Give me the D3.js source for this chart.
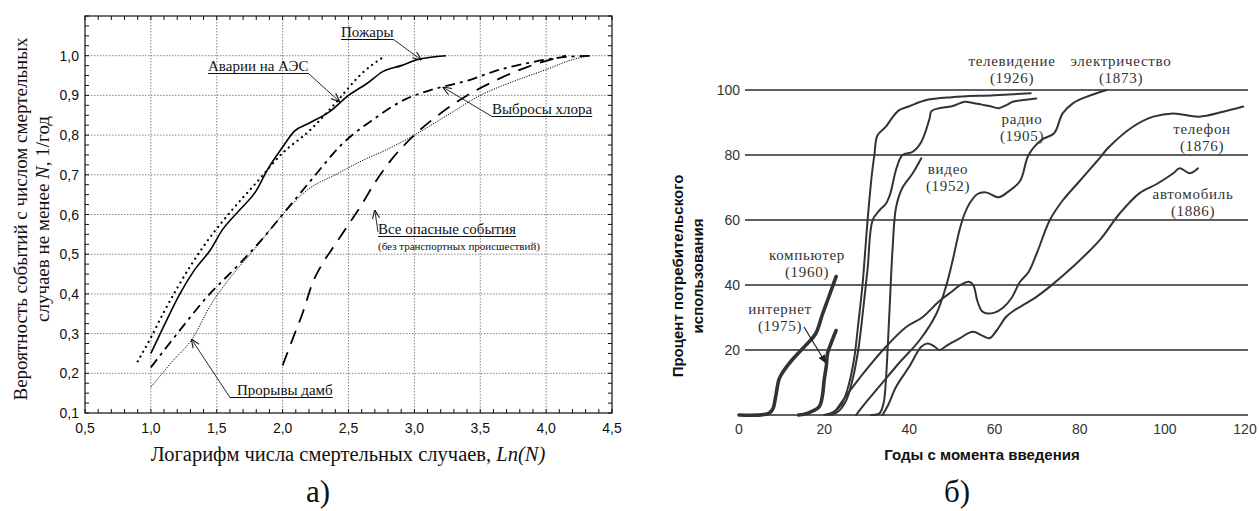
<!DOCTYPE html>
<html>
<head>
<meta charset="utf-8">
<script src="https://cdn.jsdelivr.net/npm/d3@7/dist/d3.min.js"></script>
<style>
  body { margin: 0; background: #fff; }
  text { fill: #111; }
</style>
</head>
<body>
<svg id="fig" width="1259" height="511"></svg>
<script>
// ---- panel a) data: Ln(N) vs probability ----
const xTicksA = [0.5, 1.0, 1.5, 2.0, 2.5, 3.0, 3.5, 4.0, 4.5];
const yTicksA = [0.1, 0.2, 0.3, 0.4, 0.5, 0.6, 0.7, 0.8, 0.9, 1.0];

const fires = [[1.0,0.25],[1.1,0.32],[1.22,0.40],[1.33,0.46],[1.45,0.51],[1.54,0.56],[1.67,0.61],[1.8,0.66],
  [1.88,0.71],[2.0,0.77],[2.09,0.81],[2.2,0.83],[2.36,0.86],[2.5,0.90],[2.64,0.93],[2.76,0.96],[2.9,0.975],
  [3.02,0.99],[3.24,1.0]];
const npp = [[0.9,0.23],[1.0,0.29],[1.1,0.355],[1.2,0.415],[1.4,0.52],[1.6,0.605],[1.8,0.68],[2.0,0.755],
  [2.2,0.81],[2.4,0.88],[2.6,0.955],[2.78,1.0]];
const chlorine = [[1.0,0.215],[1.2,0.30],[1.42,0.39],[1.67,0.475],[1.85,0.54],[2.0,0.60],[2.2,0.68],[2.46,0.78],
  [2.69,0.84],[2.93,0.89],[3.14,0.915],[3.43,0.94],[3.6,0.96],[3.84,0.98],[4.1,0.995],[4.35,1.0]];
const hazards = [[2.0,0.22],[2.08,0.29],[2.15,0.35],[2.23,0.43],[2.3,0.475],[2.4,0.525],[2.5,0.575],[2.6,0.625],
  [2.7,0.68],[2.83,0.74],[3.0,0.80],[3.2,0.855],[3.4,0.90],[3.6,0.935],[3.86,0.972],[4.15,1.0]];
const dams = [[1.0,0.165],[1.15,0.225],[1.32,0.29],[1.45,0.37],[1.6,0.44],[1.78,0.51],[2.0,0.60],[2.2,0.665],
  [2.4,0.70],[2.6,0.735],[2.8,0.765],[3.0,0.80],[3.25,0.85],[3.5,0.90],[3.75,0.935],[4.0,0.965],[4.2,0.99],[4.33,1.0]];

// ---- panel b) data: years since introduction vs % of consumers ----
const xTicksB = [0, 20, 40, 60, 80, 100, 120];
const yTicksB = [20, 40, 60, 80, 100];

const electricity = [[27.5,0],[29,2.6],[32.9,8.7],[37.6,16],[42.4,23],[46.3,31],[48.6,39.5],[50.2,47.7],[51.8,57],
  [53,62],[54.1,65],[56,68],[58,68.5],[61,67],[63,68.5],[66,72],[68,80],[71,84.6],[74,86.7],[76,92.8],
  [78.4,95.9],[81.6,97.9],[86.3,100]];
const telephone = [[22,0],[25,5.6],[29.8,13.8],[34.5,21],[39.2,27],[43,30],[47,35],[50,38],[52,40],[54,41],[55,40],
  [56,35],[57,32],[58,31.3],[60,31.5],[62,33],[64,36],[66,41],[68,44],[70,50],[73,60],[76,66],[80,72],[84,78],
  [87,82.6],[92.5,88.7],[97.3,91.8],[102,92.8],[108,91.8],[113.7,93.3],[118.4,94.9]];
const automobile = [[33.7,0],[35,3],[36.9,8.7],[40,14.9],[42.8,21],[44.3,22],[46,21],[47,20],[49,21.5],[51.8,23.6],
  [54.9,25.6],[57,24.5],[58.8,23.6],[60.5,26],[62.8,30.3],[65,32.5],[67.5,34.4],[70,36.5],[73,39.5],[78.4,45.6],
  [84.7,53.8],[89.4,62],[94,68.2],[98,71],[102,74.4],[103.5,75.9],[105.9,74.4],[107.8,75.9]];
const radio = [[21,0],[23,0.8],[25,4],[26.5,10],[28,20],[29.2,33],[30.2,45],[31.4,60],[33,63],[34.5,65],[35.5,68],
  [37,76],[38.4,80],[40.8,81],[42.8,84],[44.7,91],[45.2,93.5],[47,94.4],[50,95],[53,96.4],[55,96],[57,95.5],
  [59,95],[61,94.4],[63,95.5],[64.3,96.4],[66.7,96.9],[69.8,97.4]];
const television = [[20,0],[22,0.8],[24,3],[25.5,8],[27,17],[28,28],[29,40],[30.2,60],[31.2,74],[31.8,80],[32.5,86],
  [34.5,88.7],[36,91.5],[37.6,93.8],[40,95],[44,96.9],[50,97.8],[60,98.4],[68.5,99]];
const video = [[31,0],[33,0.5],[34,4],[34.5,10.8],[35.3,31],[36.1,52],[36.9,64],[38.4,70],[40.8,74.4],[42.8,79]];
const computer = [[0,0],[7,0.5],[8,2],[8.6,5.6],[9.4,11],[10.2,13],[12.5,17],[15.7,21.5],[18,25],[19.6,31],[21,36],[22.8,42.6]];
const internet = [[14,0],[16,0.5],[18.8,2.5],[19.6,6],[20,10.8],[20.5,15],[20.8,19],[21.6,22],[22.8,26]];

const svg = d3.select("#fig");
const serif = "'Liberation Serif', 'Times New Roman', serif";
const sans = "'Liberation Sans', Arial, sans-serif";

// arrow heads
const defs = svg.append("defs");
defs.append("marker").attr("id", "arrOpen")
    .attr("viewBox", "0 0 10 10").attr("refX", 9).attr("refY", 5)
    .attr("markerWidth", 9).attr("markerHeight", 9).attr("orient", "auto-start-reverse")
    .attr("markerUnits", "userSpaceOnUse")
    .append("path").attr("d", "M0,1 L10,5 L0,9").attr("fill", "none").attr("stroke", "#111").attr("stroke-width", 1.2);
defs.append("marker").attr("id", "arrFill")
    .attr("viewBox", "0 0 10 10").attr("refX", 9).attr("refY", 5)
    .attr("markerWidth", 9).attr("markerHeight", 9).attr("orient", "auto")
    .attr("markerUnits", "userSpaceOnUse")
    .append("path").attr("d", "M0,1 L10,5 L0,9 Z").attr("fill", "#222");

// ================= panel a =================
const xA = d3.scaleLinear().domain([0.5, 4.5]).range([85, 612]);
const yA = d3.scaleLinear().domain([0.1, 1.1]).range([413, 16]);
const comma = v => d3.format(".1f")(v).replace(".", ",");

let ga = svg.append("g");

// dotted grid
ga.selectAll(".gx").data(xTicksA.slice(1, -1)).enter().append("line")
  .attr("x1", d => xA(d)).attr("x2", d => xA(d)).attr("y1", yA(1.1)).attr("y2", yA(0.1))
  .attr("stroke", "#666").attr("stroke-width", 0.8).attr("stroke-dasharray", "1.5,1.5");
ga.selectAll(".gy").data(yTicksA.slice(1)).enter().append("line")
  .attr("x1", xA(0.5)).attr("x2", xA(4.5)).attr("y1", d => yA(d)).attr("y2", d => yA(d))
  .attr("stroke", "#666").attr("stroke-width", 0.8).attr("stroke-dasharray", "1.5,1.5");

// minor ticks on all four sides, pointing inward
const minorX = d3.range(0.5, 4.5001, 0.1);
const minorY = d3.range(0.1, 1.1001, 0.025);
minorX.forEach(v => {
  ga.append("line").attr("x1", xA(v)).attr("x2", xA(v)).attr("y1", yA(0.1)).attr("y2", yA(0.1) - 4).attr("stroke", "#111");
  ga.append("line").attr("x1", xA(v)).attr("x2", xA(v)).attr("y1", yA(1.1)).attr("y2", yA(1.1) + 4).attr("stroke", "#111");
});
minorY.forEach(v => {
  ga.append("line").attr("x1", xA(0.5)).attr("x2", xA(0.5) + 4).attr("y1", yA(v)).attr("y2", yA(v)).attr("stroke", "#111");
  ga.append("line").attr("x1", xA(4.5)).attr("x2", xA(4.5) - 4).attr("y1", yA(v)).attr("y2", yA(v)).attr("stroke", "#111");
});

ga.append("rect").attr("x", xA(0.5)).attr("y", yA(1.1))
  .attr("width", xA(4.5) - xA(0.5)).attr("height", yA(0.1) - yA(1.1))
  .attr("fill", "none").attr("stroke", "#111").attr("stroke-width", 1.2);

// tick labels
ga.selectAll(".tx").data(xTicksA).enter().append("text")
  .attr("x", d => xA(d)).attr("y", 433).attr("text-anchor", "middle")
  .style("font-family", sans).style("font-size", "14px").text(comma);
ga.selectAll(".ty").data(yTicksA).enter().append("text")
  .attr("x", 79).attr("y", d => yA(d) + 5).attr("text-anchor", "end")
  .style("font-family", sans).style("font-size", "14px").text(comma);

// axis titles
let yt = ga.append("text").attr("transform", "translate(27,219) rotate(-90)")
  .attr("text-anchor", "middle").style("font-family", serif).style("font-size", "19px");
yt.append("tspan").attr("x", 0).attr("dy", 0).text("Вероятность событий с числом смертельных");
yt.append("tspan").attr("x", 0).attr("dy", 22).text("случаев не менее ");
yt.append("tspan").style("font-style", "italic").text("N");
yt.append("tspan").text(", 1/год");

let xt = ga.append("text").attr("x", 348).attr("y", 461).attr("text-anchor", "middle")
  .style("font-family", serif).style("font-size", "20.5px");
xt.append("tspan").text("Логарифм числа смертельных случаев, ");
xt.append("tspan").style("font-style", "italic").text("Ln(N)");

ga.append("text").attr("x", 318).attr("y", 502).attr("text-anchor", "middle")
  .style("font-family", serif).style("font-size", "31px").text("а)");

// curves
const lineA = d3.line().x(d => xA(d[0])).y(d => yA(d[1])).curve(d3.curveMonotoneX);
const seriesA = [
  {data: fires,    dash: null,            w: 1.6, cap: "butt"},
  {data: npp,      dash: "0.1,5.5",       w: 2.2, cap: "round"},
  {data: chlorine, dash: "10,5,3,5",      w: 1.8, cap: "butt"},
  {data: hazards,  dash: "14,9",          w: 1.8, cap: "butt"},
  {data: dams,     dash: "1.2,1.3",       w: 1.0, cap: "butt"}
];
seriesA.forEach(s => {
  ga.append("path").attr("d", lineA(s.data)).attr("fill", "none")
    .attr("stroke", "#000").attr("stroke-width", s.w)
    .attr("stroke-dasharray", s.dash).attr("stroke-linecap", s.cap);
});

// annotations
function note(txt, x, y, size) {
  let t = ga.append("text").attr("x", x).attr("y", y)
    .style("font-family", serif).style("font-size", size + "px").text(txt);
  let w = t.node().getComputedTextLength();
  ga.append("line").attr("x1", x).attr("x2", x + w).attr("y1", y + 2.5).attr("y2", y + 2.5)
    .attr("stroke", "#111").attr("stroke-width", 1);
  return w;
}
function arrowA(x1, y1, x2, y2) {
  ga.append("line").attr("x1", x1).attr("y1", y1).attr("x2", x2).attr("y2", y2)
    .attr("stroke", "#111").attr("stroke-width", 0.9).attr("marker-end", "url(#arrOpen)");
}
let wP = note("Пожары", 341, 37, 15);
arrowA(341 + wP, 39.5, xA(3.05), yA(0.99));
let wA = note("Аварии на АЭС", 208, 71, 15);
arrowA(208 + wA, 73.5, xA(2.43), yA(0.885));
note("Выбросы хлора", 492, 114, 15);
arrowA(492, 116.5, xA(3.22), yA(0.92));
note("Все опасные события", 378, 234, 15);
ga.append("text").attr("x", 378).attr("y", 250).style("font-family", serif).style("font-size", "11px")
  .text("(без транспортных происшествий)");
arrowA(378, 232, xA(2.7), yA(0.61));
ga.append("line").attr("x1", 230).attr("x2", 237).attr("y1", 397.5).attr("y2", 397.5).attr("stroke", "#111");
note("Прорывы дамб", 237, 395, 15);
arrowA(230, 397.5, xA(1.31), yA(0.285));

// ================= panel b =================
const xB = d3.scaleLinear().domain([0, 120]).range([739, 1250]);
const yB = d3.scaleLinear().domain([0, 100]).range([415, 90]);
let gb = svg.append("g");

gb.selectAll(".hl").data([0].concat(yTicksB)).enter().append("line")
  .attr("x1", 745).attr("x2", 1248).attr("y1", d => yB(d)).attr("y2", d => yB(d))
  .attr("stroke", "#2a2a2a").attr("stroke-width", 1.6);

gb.selectAll(".ty").data(yTicksB).enter().append("text")
  .attr("x", 740).attr("y", d => yB(d) + 5).attr("text-anchor", "end")
  .style("font-family", sans).style("font-size", "14px").style("fill", "#333").text(d => d);
gb.selectAll(".tx").data(xTicksB).enter().append("text")
  .attr("x", d => Math.min(xB(d), 1245)).attr("y", 434).attr("text-anchor", "middle")
  .style("font-family", sans).style("font-size", "14px").style("fill", "#333").text(d => d);

let ybt = gb.append("text").attr("transform", "translate(683,276) rotate(-90)")
  .attr("text-anchor", "middle").style("font-family", sans).style("font-size", "15px").style("font-weight", "bold");
ybt.append("tspan").attr("x", 0).text("Процент потребительского");
ybt.append("tspan").attr("x", 0).attr("dy", 20).text("использования");
gb.append("text").attr("x", 982).attr("y", 460).attr("text-anchor", "middle")
  .style("font-family", sans).style("font-size", "15px").style("font-weight", "bold").text("Годы с момента введения");
gb.append("text").attr("x", 957).attr("y", 502).attr("text-anchor", "middle")
  .style("font-family", serif).style("font-size", "31px").text("б)");

const lineB = d3.line().x(d => xB(d[0])).y(d => yB(d[1])).curve(d3.curveCatmullRom.alpha(0.5));
const seriesB = [
  {data: electricity, w: 2},
  {data: telephone,   w: 2},
  {data: automobile,  w: 2},
  {data: radio,       w: 2},
  {data: television,  w: 2},
  {data: video,       w: 2},
  {data: computer,    w: 3.6},
  {data: internet,    w: 3.6}
];
seriesB.forEach(s => {
  gb.append("path").attr("d", lineB(s.data)).attr("fill", "none")
    .attr("stroke", "#333").attr("stroke-width", s.w)
    .attr("stroke-linejoin", "round").attr("stroke-linecap", "round");
});

// curve labels
const labelsB = [
  ["телевидение", "(1926)", 1012, 62],
  ["электричество", "(1873)", 1121, 62],
  ["радио", "(1905)", 1022, 120],
  ["телефон", "(1876)", 1202, 130],
  ["автомобиль", "(1886)", 1193, 195],
  ["видео", "(1952)", 948, 170],
  ["компьютер", "(1960)", 807, 256],
  ["интернет", "(1975)", 780, 310]
];
labelsB.forEach(l => {
  let t = gb.append("text").attr("x", l[2]).attr("y", l[3] + 4).attr("text-anchor", "middle")
    .style("font-family", serif).style("font-size", "15px").style("letter-spacing", "0.7px").style("fill", "#333");
  t.append("tspan").attr("x", l[2]).text(l[0]);
  t.append("tspan").attr("x", l[2]).attr("dy", 17).text(l[1]);
});
gb.append("line").attr("x1", 804).attr("y1", 327).attr("x2", xB(20.4)).attr("y2", yB(16))
  .attr("stroke", "#222").attr("stroke-width", 1.2).attr("marker-end", "url(#arrFill)");
</script>
</body>
</html>
